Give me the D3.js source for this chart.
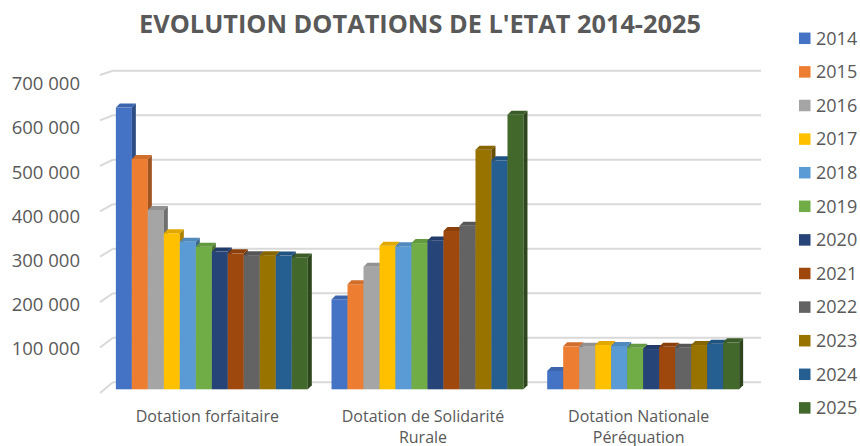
<!DOCTYPE html>
<html lang="fr">
<head>
<meta charset="UTF-8">
<title>Evolution dotations de l'Etat 2014-2025</title>
<script src="https://d3js.org/d3.v7.min.js"></script>
<style>
    body { margin: 0; background: #fff; }
    svg { display: block; font-family: "Open Sans", sans-serif; }
</style>
</head>
<body>
<svg id="chart" width="860" height="446"></svg>
<script>
    // Data
    const categories = ["Dotation forfaitaire", "Dotation de Solidarité Rurale", "Dotation Nationale Péréquation"];
    const categoryLines = [["Dotation forfaitaire"], ["Dotation de Solidarité", "Rurale"], ["Dotation Nationale", "Péréquation"]];
    const years = ["2014", "2015", "2016", "2017", "2018", "2019", "2020", "2021", "2022", "2023", "2024", "2025"];
    const dotationForfaitaire = [630000, 515000, 401000, 349000, 330000, 319000, 308000, 304000, 300000, 300000, 299000, 295000];
    const dotationSolidariteRurale = [201000, 235000, 274000, 321000, 320000, 327000, 333000, 354000, 366000, 536000, 512000, 614000];
    const dotationNationalePerequation = [41000, 96000, 95000, 99000, 97000, 93000, 90000, 95000, 93000, 99000, 102000, 105000];
    const yTicks = [0, 100000, 200000, 300000, 400000, 500000, 600000, 700000];
    const colors = ["#4472C4", "#ED7D31", "#A5A5A5", "#FFC000", "#5B9BD5", "#70AD47",
                    "#264478", "#9E480E", "#636363", "#997300", "#255E91", "#43682B"];

    const seriesByCategory = [dotationForfaitaire, dotationSolidariteRurale, dotationNationalePerequation];

    const svg = d3.select("#chart");
    const textColor = "#595959";
    const gridColor = "#d9d9d9";
    const fmt = d3.formatLocale({ decimal: ",", thousands: " ", grouping: [3], currency: ["", " €"] }).format(",d");

    // Scales (3D-ish: back wall, front edge, bars in between)
    const yBack = d3.scaleLinear().domain([0, 700000]).range([382.3, 70.7]);
    const yFront = d3.scaleLinear().domain([0, 700000]).range([393, 75]);
    const yLabel = d3.scaleLinear().domain([0, 700000]).range([393, 83.7]);
    const yBar = d3.scaleLinear().domain([0, 700000]).range([389.3, 76.3]);
    const backLeft = 113, frontLeft = 100, backRight = 761;
    const depth = 4;

    const x0 = d3.scaleBand().domain(categories).range([104, 751]).paddingInner(0.11).paddingOuter(0.055);
    const x1 = d3.scaleBand().domain(years).range([0, x0.bandwidth()]);

    // Title
    const title = svg.append("text")
        .attr("x", 420).attr("y", 33)
        .attr("text-anchor", "middle")
        .attr("fill", textColor)
        .attr("font-weight", "bold")
        .attr("font-size", 24)
        .text("EVOLUTION DOTATIONS DE L'ETAT 2014-2025");
    // fit the title to its width in the picture
    const tw = title.node().getComputedTextLength();
    title.attr("font-size", 24 * 562 / tw);

    // Gridlines on the back wall + diagonals on the side wall
    const grid = svg.append("g");
    yTicks.forEach(t => {
        grid.append("line")
            .attr("x1", backLeft).attr("x2", backRight)
            .attr("y1", yBack(t)).attr("y2", yBack(t))
            .attr("stroke", gridColor).attr("stroke-width", 2);
        grid.append("line")
            .attr("x1", frontLeft).attr("x2", backLeft)
            .attr("y1", yFront(t)).attr("y2", yBack(t))
            .attr("stroke", gridColor).attr("stroke-width", 2);
    });

    // Y axis labels (no label at zero)
    svg.append("g")
        .selectAll("text")
        .data(yTicks.filter(t => t > 0))
        .join("text")
        .attr("x", 80)
        .attr("y", d => yLabel(d))
        .attr("dy", "0.35em")
        .attr("text-anchor", "end")
        .attr("fill", textColor)
        .attr("font-size", 18.5)
        .text(d => fmt(d));

    // Bars
    const bars = svg.append("g");
    categories.forEach((cat, ci) => {
        const values = seriesByCategory[ci];
        values.forEach((v, i) => {
            const x = x0(cat) + x1(years[i]);
            const w = x1.bandwidth();
            const yt = yBar(v), yb = yBar(0);
            const c = d3.color(colors[i]);
            // front
            bars.append("rect")
                .attr("x", x).attr("y", yt)
                .attr("width", w).attr("height", yb - yt)
                .attr("fill", colors[i]);
            // side
            bars.append("path")
                .attr("d", `M${x + w},${yt}L${x + w + depth},${yt - depth}L${x + w + depth},${yb - depth}L${x + w},${yb}Z`)
                .attr("fill", c.darker(1.1));
            // top
            bars.append("path")
                .attr("d", `M${x},${yt}L${x + depth},${yt - depth}L${x + w + depth},${yt - depth}L${x + w},${yt}Z`)
                .attr("fill", c.darker(0.35));
        });
    });

    // Category labels
    const catLabels = svg.append("g");
    categories.forEach((cat, ci) => {
        const t = catLabels.append("text")
            .attr("x", x0(cat) + x0.bandwidth() / 2 - 4.5)
            .attr("y", 422)
            .attr("text-anchor", "middle")
            .attr("fill", textColor)
            .attr("font-size", 16);
        categoryLines[ci].forEach((line, li) => {
            t.append("tspan")
                .attr("x", x0(cat) + x0.bandwidth() / 2 - 4.5)
                .attr("dy", li === 0 ? 0 : 21)
                .text(line);
        });
    });

    // Legend
    const legend = svg.append("g")
        .selectAll("g")
        .data(years)
        .join("g")
        .attr("transform", (d, i) => `translate(799, ${38.3 + i * 33.6})`);
    legend.append("rect")
        .attr("x", 0).attr("y", -5.75)
        .attr("width", 11.5).attr("height", 11.5)
        .attr("fill", (d, i) => colors[i]);
    legend.append("text")
        .attr("x", 17).attr("y", 0)
        .attr("dy", "0.35em")
        .attr("fill", textColor)
        .attr("font-size", 18)
        .text(d => d);
</script>
</body>
</html>
